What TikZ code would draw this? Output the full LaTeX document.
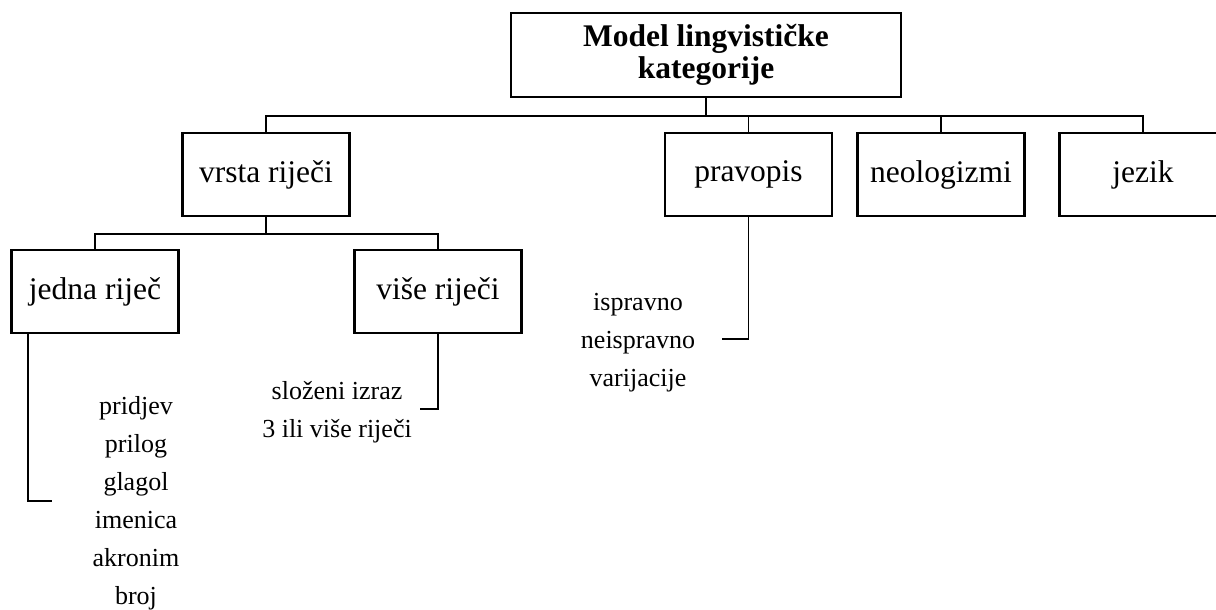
\documentclass[tikz,border=0pt]{standalone}
\usepackage{fontspec}
\setmainfont{Liberation Serif}
\begin{document}
\begin{tikzpicture}[x=1pt, y=-1pt,
    catbox/.style={draw, line width=2.4pt, minimum width=167pt, minimum height=83pt, inner sep=0pt, font=\fontsize{31.5}{33}\selectfont},
    itemlist/.style={align=center, inner sep=0pt, font=\fontsize{26}{38}\selectfont},
    link/.style={line width=1.8pt}]

% Page frame
\useasboundingbox (0,0) rectangle (1216,610);

% Root
\node[catbox, minimum width=390pt, minimum height=84pt, align=center, font=\fontsize{31.5}{32.5}\selectfont\bfseries] (model) at (706,55) {Model lingvističke\\kategorije};

% First level
\node[catbox] (vrsta) at (266,174.5) {vrsta riječi};
\node[catbox] (pravopis) at (748.5,174.5) {pravopis};
\node[catbox] (neolog) at (941,174.5) {neologizmi};
\node[catbox] (jezik) at (1143,174.5) {jezik};

% Second level
\node[catbox] (jedna) at (95,291.5) {jedna riječ};
\node[catbox] (vise) at (438,291.5) {više riječi};

% Lists
\node[itemlist] (jlist) at (136,503) {pridjev\\prilog\\glagol\\imenica\\akronim\\broj};
\node[itemlist] (vlist) at (337,412) {složeni izraz\\3 ili više riječi};
\node[itemlist] (plist) at (638,343) {ispravno\\neispravno\\varijacije};

% Tree links
\foreach \child in {vrsta, pravopis, neolog, jezik}
    \draw[link] (model.south) -- ++(0,18) -| (\child.north);
\foreach \child in {jedna, vise}
    \draw[link] (vrsta.south) -- ++(0,17) -| (\child.north);

% List links
\draw[link] ([xshift=-67pt]jedna.south) |- ([xshift=-40pt,yshift=2pt]jlist.west);
\draw[link] (vise.south) |- ([xshift=8pt,yshift=3pt]vlist.east);
\draw[link] (pravopis.south) |- ([xshift=27pt,yshift=4pt]plist.east);

\end{tikzpicture}
\end{document}
